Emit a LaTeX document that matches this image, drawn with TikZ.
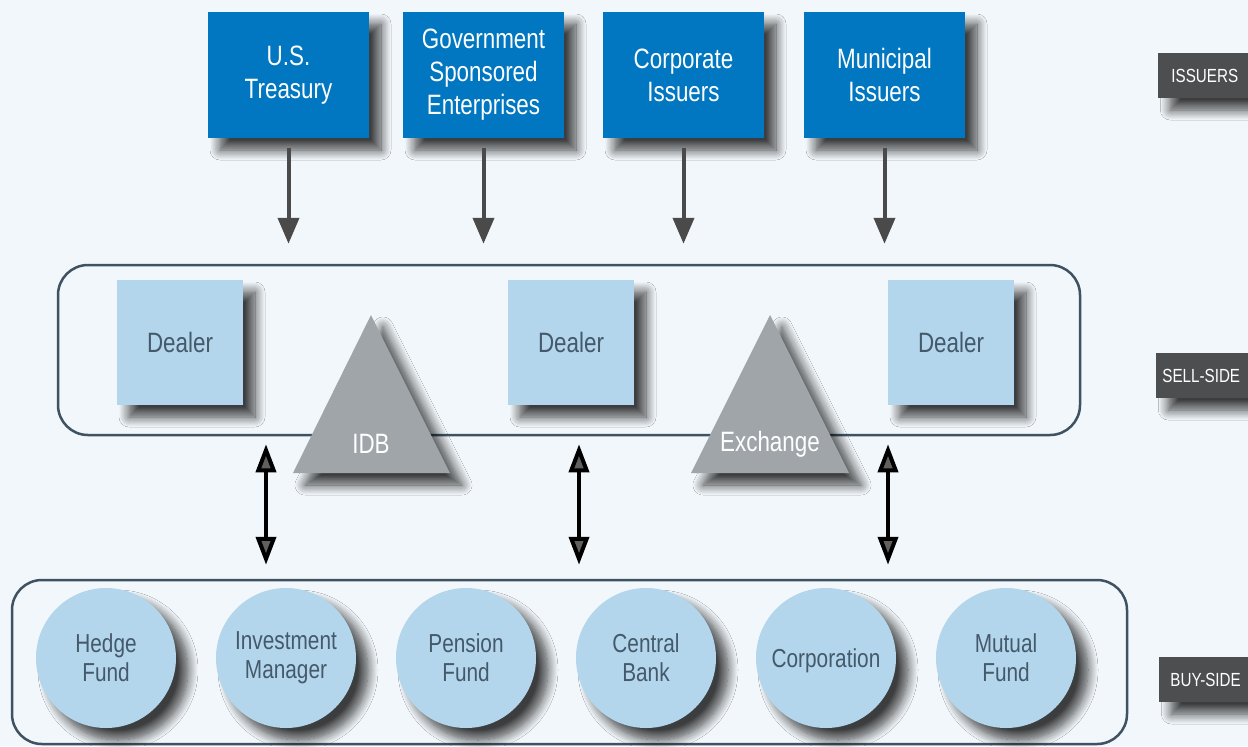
\documentclass[tikz,border=0pt]{standalone}
\usepackage{fontspec}
\setmainfont{Liberation Sans}[FakeStretch=0.8]
\usetikzlibrary{arrows.meta,shadows.blur}
\definecolor{paper}{HTML}{F2F7FB}
\definecolor{issuerblue}{HTML}{0077C0}
\definecolor{paleblue}{HTML}{B3D6EC}
\definecolor{inktext}{HTML}{44596A}
\definecolor{frameline}{HTML}{3F5262}
\definecolor{venuegrey}{HTML}{A0A5AA}
\definecolor{taggrey}{HTML}{4D4E50}
\definecolor{flowgrey}{HTML}{4A4A4A}
\begin{document}
\begin{tikzpicture}[x=.5pt, y=-.5pt,
		shade/.style={blur shadow={shadow xshift=6pt, shadow yshift=-6pt, shadow blur radius=5pt, shadow blur steps=12, shadow opacity=75}},
		issuer/.style={shade, fill=issuerblue, text=white, minimum width=80.5pt, minimum height=63pt, align=center, font=\fontsize{14}{16.5}\selectfont},
		dealer/.style={shade, fill=paleblue, text=inktext, minimum width=63pt, minimum height=62.5pt, font=\fontsize{14}{16.5}\selectfont},
		buyer/.style={shade, circle, fill=paleblue, text=inktext, minimum size=70pt, inner sep=0pt, align=center, font=\fontsize{13}{14.5}\selectfont},
		venue/.style={shade, fill=venuegrey},
		group/.style={draw=frameline, line width=1.25pt, rounded corners=15pt},
		tag/.style={shade, fill=taggrey, text=white, anchor=west, minimum height=22.5pt, text width=47pt, align=left, font=\fontsize{9.5}{12}\selectfont},
		down/.style={draw=flowgrey, line width=2pt, -{Triangle[width=10.5pt,length=13pt]}},
		both/.style={line width=2pt, {Triangle[width=10pt,length=14pt]}-{Triangle[width=10pt,length=14pt]}}]
	\fill[paper] (0,0) rectangle (1248,746);
	\useasboundingbox (0,0) rectangle (1248,746);

	% issuers
	\node[issuer] (treasury) at (288.5,75) {U.S.\\Treasury};
	\node[issuer] (gse) at (483.5,75) {Government\\Sponsored\\Enterprises};
	\node[issuer] (corp) at (683.5,75) {Corporate\\Issuers};
	\node[issuer] (muni) at (884.5,75) {Municipal\\Issuers};

	% sell-side
	\node[group, minimum width=511pt, minimum height=85pt] (sell) at (569,350) {};
	\node[dealer] (dealer1) at (180,342.5) {Dealer};
	\node[dealer] (dealer2) at (571,342.5) {Dealer};
	\node[dealer] (dealer3) at (951,342.5) {Dealer};
	\fill[venue] (371,315) -- (450,473) -- (293,473) -- cycle;
	\fill[venue] (770,315) -- (849,473) -- (691,473) -- cycle;
	\node[text=white, font=\fontsize{14}{16.5}\selectfont] (idb) at (371,444) {IDB};
	\node[text=white, font=\fontsize{14}{16.5}\selectfont] (exchange) at (770,444) {Exchange};

	% buy-side
	\node[group, minimum width=557.5pt, minimum height=82pt] (buy) at (569.5,662) {};
	\node[buyer] (hedge) at (106,658) {Hedge\\Fund};
	\node[buyer] (manager) at (286,658) {Investment\\Manager};
	\node[buyer] (pension) at (466,658) {Pension\\Fund};
	\node[buyer] (central) at (646,658) {Central\\Bank};
	\node[buyer, text depth=0pt] (corporation) at (826,658) {Corporation};
	\node[buyer] (mutual) at (1006,658) {Mutual\\Fund};

	% tiers
	\node[tag, inner xsep=6.5pt] (tagissuers) at (1158,75.5) {ISSUERS};
	\node[tag, inner xsep=3pt] (tagsell) at (1156,375.5) {SELL-SIDE};
	\node[tag, inner xsep=5.5pt] (tagbuy) at (1159,679.5) {BUY-SIDE};

	% flows
	\foreach \n in {treasury,gse,corp,muni}
		\draw[down, shorten <=5pt, shorten >=10pt] (\n.south) -- (\n.south |- sell.north);
	\coordinate (link1) at (266,0);
	\coordinate (link2) at (579,0);
	\coordinate (link3) at (888,0);
	\foreach \n in {link1,link2,link3}
		\draw[both, shorten <=4pt, shorten >=7pt] (\n |- sell.south) -- (\n |- buy.north);
\end{tikzpicture}
\end{document}
